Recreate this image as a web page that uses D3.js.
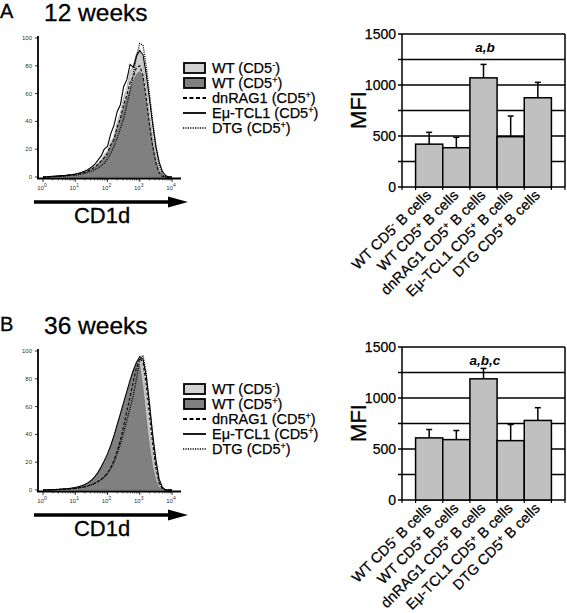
<!DOCTYPE html>
<html><head><meta charset="utf-8">
<script src="https://cdn.jsdelivr.net/npm/d3@7"></script>
<style>
html,body{margin:0;padding:0;background:#fff;}
svg{display:block;font-family:"Liberation Sans",Arial,sans-serif;}
</style></head>
<body>
<svg id="chart" width="567" height="613"></svg>
<script>
// ---------- DATA ----------
const panelLetters = ["A", "B"];
const panelTitles = ["12 weeks", "36 weeks"];
const sigLabels = ["a,b", "a,b,c"];

// histogram bins (log10 of CD1d intensity)
const histLogs = [0.0,0.1,0.2,0.3,0.4,0.5,0.6,0.7,0.8,0.9,1.0,1.1,1.2,1.3,1.4,1.5,1.6,1.7,1.8,1.9,2.0,2.1,2.2,2.3,2.4,2.5,2.6,2.7,2.8,2.9,3.0,3.1,3.2,3.3,3.4,3.5,3.6,3.7,3.8,3.9,4.0];
const histTickExps = [0, 1, 2, 3, 4];
const histYTicks = [0, 20, 40, 60, 80, 100];

// 12 weeks
const wtNegA  = [0,0,0.3,0.5,0.5,0.8,1,1,1.2,1.5,1.8,2.2,3,4,5,6.5,8,10,12,16,19,25,29,39,46,57,64,76,80,89,91,83,66,46,30,16,6,1.5,0.3,0,0];
const wtPosA  = [0,0,0.2,0.4,0.5,0.6,0.8,1,1.1,1.3,1.6,2,2.6,3.4,4.4,5.6,7,9,11,14,17,22,28,35,42,50,57,63,69,74,76,72,55,38,24,12,4,1,0,0,0];
const dnRagA  = [0,0,0.2,0.4,0.5,0.6,0.8,1,1.2,1.4,1.7,2.1,2.7,3.4,4.3,5.5,7,9,11.5,14,17,23,27,36,42,52,59,68,72,79,80,73,57,38,22,10,3,0.5,0,0,0];
const tcl1A   = [0,0,0.3,0.5,0.6,0.8,1,1.2,1.5,1.8,2.2,2.7,3.4,4.3,5.4,7,9,12,15,20,22,31,37,47,52,65,70,81,79,87,91,88,74,56,38,22,11,4,1,0,0];
const dtgA    = [0,0,0.2,0.3,0.4,0.5,0.6,0.8,1,1.2,1.4,1.7,2.1,2.7,3.4,4.2,5.2,6.5,8,10,13,17,22,28,35,42,52,62,74,87,96,95,80,60,40,22,9,2,0.3,0,0];
// 36 weeks
const wtNegB  = [0,0,0.2,0.3,0.4,0.5,0.6,0.8,1,1.3,1.7,2.2,2.8,3.6,4.6,6,8.5,10,14,19,22,30,35,45,51,61,67,77,83,91,95,88,68,45,26,12,4,1,0,0,0];
const wtPosB  = [0,0,0.2,0.3,0.4,0.5,0.7,0.9,1.1,1.4,1.8,2.3,3,4,5.2,6.7,9,12,16,20,25,31,38,46,54,62,70,78,86,92,90,74,52,32,17,7,2,0.3,0,0,0];
const dnRagB  = [0,0,0.1,0.2,0.3,0.4,0.5,0.6,0.8,1,1.2,1.5,1.9,2.4,3,3.8,4.8,6,7.5,9.5,12,16,21,28,36,46,57,67,78,88,95,92,76,54,33,16,5,1,0,0,0];
const tcl1B   = [0,0,0.2,0.3,0.4,0.5,0.7,0.9,1.1,1.4,1.8,2.3,3,4,5.3,7,9.5,12.5,16.5,21,26,32,39,47,55,63,71,79,86,92,96,94,82,62,40,22,8,2,0,0,0];
const dtgB    = [0,0,0.1,0.2,0.3,0.4,0.5,0.6,0.8,1,1.2,1.5,1.9,2.4,3,3.8,4.8,6,7.5,9.5,12,15.5,20,26,33,41,50,59,68,80,94,97,84,62,38,18,6,1.2,0,0,0];

const legendLabels = [
  ["WT (CD5", "-", ")"],
  ["WT (CD5", "+", ")"],
  ["dnRAG1 (CD5", "+", ")"],
  ["E\u03bc-TCL1 (CD5", "+", ")"],
  ["DTG (CD5", "+", ")"]
];

// bar charts
const barCategories = [
  ["WT CD5", "-", " B cells"],
  ["WT CD5", "+", " B cells"],
  ["dnRAG1 CD5", "+", " B cells"],
  ["E\u03bc-TCL1 CD5", "+", " B cells"],
  ["DTG CD5", "+", " B cells"]
];
const mfiA = [420, 385, 1070, 493, 875];
const errA = [116, 102, 132, 203, 151];
const mfiB = [609, 592, 1188, 582, 780];
const errB = [82, 89, 102, 158, 125];
const mfiTicks = [0, 250, 500, 750, 1000, 1250, 1500];
const mfiLabelTicks = [0, 500, 1000, 1500];

// ---------- DRAW ----------
const svg = d3.select("#chart");

const panels = [
  {letter: panelLetters[0], title: panelTitles[0], sig: sigLabels[0],
   hist: [wtNegA, wtPosA, dnRagA, tcl1A, dtgA], mfi: mfiA, err: errA, dy: 0, legDy: 0},
  {letter: panelLetters[1], title: panelTitles[1], sig: sigLabels[1],
   hist: [wtNegB, wtPosB, dnRagB, tcl1B, dtgB], mfi: mfiB, err: errB, dy: 313, legDy: 321}
];

function supText(sel, parts, supSize, shift) {
  sel.append("tspan").text(parts[0]);
  sel.append("tspan").attr("dy", -shift).attr("font-size", supSize).text(parts[1]);
  sel.append("tspan").attr("dy", shift).text(parts[2]);
}
function heavy(sel, w) { return sel.attr("stroke", "#000").attr("stroke-width", w).attr("paint-order", "stroke"); }

panels.forEach(p => {
  const g = svg.append("g").attr("transform", `translate(0,${p.dy})`);

  // titles
  heavy(g.append("text").attr("x", 0).attr("y", 18).attr("font-size", 20).text(p.letter), 0.3);
  heavy(g.append("text").attr("x", 44).attr("y", 21).attr("font-size", 24.5).text(p.title), 0.3);

  // ----- histogram -----
  const hx = d3.scaleLinear().domain([0, 4]).range([43, 172]);
  const hy = d3.scaleLinear().domain([0, 100]).range([177, 38]);
  const hg = g.append("g");

  const area = d3.area().x((d, i) => hx(histLogs[i])).y0(hy(0)).y1(d => hy(d)).curve(d3.curveLinear);
  const line = d3.line().x((d, i) => hx(histLogs[i])).y(d => hy(d)).curve(d3.curveLinear);

  hg.append("path").datum(p.hist[0]).attr("d", area).attr("fill", "#cbcbcb").attr("stroke", "#a8a8a8").attr("stroke-width", 0.8);
  hg.append("path").datum(p.hist[1]).attr("d", area).attr("fill", "#808080").attr("stroke", "#6a6a6a").attr("stroke-width", 0.6);
  const lineStyles = [null, null, "3,2", null, "1,1.2"];
  [2, 3, 4].forEach(k => {
    hg.append("path").datum(p.hist[k]).attr("d", line).attr("fill", "none")
      .attr("stroke", "#000").attr("stroke-width", k === 4 ? 1.4 : 1.1)
      .attr("stroke-dasharray", lineStyles[k]);
  });

  // axes
  hg.append("line").attr("x1", 38).attr("x2", 38).attr("y1", 36).attr("y2", 179).attr("stroke", "#000").attr("stroke-width", 1.8);
  hg.append("line").attr("x1", 37).attr("x2", 181).attr("y1", 178.5).attr("y2", 178.5).attr("stroke", "#000").attr("stroke-width", 1.8);
  histYTicks.forEach(t => {
    hg.append("line").attr("x1", 35).attr("x2", 38).attr("y1", hy(t)).attr("y2", hy(t)).attr("stroke", "#000").attr("stroke-width", 0.8);
    hg.append("text").attr("x", 32).attr("y", hy(t) + 2).attr("text-anchor", "end")
      .attr("font-size", 6).attr("fill", "#333").text(t);
  });
  histTickExps.forEach(e => {
    hg.append("line").attr("x1", hx(e)).attr("x2", hx(e)).attr("y1", 178).attr("y2", 182).attr("stroke", "#000").attr("stroke-width", 0.8);
    const t = hg.append("text").attr("x", hx(e) - 1).attr("y", 190).attr("text-anchor", "middle")
      .attr("font-size", 6).attr("fill", "#333");
    t.append("tspan").text("10");
    t.append("tspan").attr("dy", -3).attr("font-size", 5).text(e);
    if (e < 4) {
      [2,3,4,5,6,7,8,9].forEach(m => {
        const xv = hx(e + Math.log10(m));
        hg.append("line").attr("x1", xv).attr("x2", xv).attr("y1", 178).attr("y2", 180.5).attr("stroke", "#000").attr("stroke-width", 0.6);
      });
    }
  });

  // arrow + label
  hg.append("line").attr("x1", 34).attr("x2", 172).attr("y1", 202).attr("y2", 202).attr("stroke", "#000").attr("stroke-width", 3.5);
  hg.append("path").attr("d", "M168,196.5 L188,202 L168,207.5 Z").attr("fill", "#000");
  heavy(hg.append("text").attr("x", 102).attr("y", 223).attr("text-anchor", "middle").attr("font-size", 22).text("CD1d"), 0.3);

  // ----- legend -----
  const lg = svg.append("g").attr("transform", `translate(0,${p.legDy})`);
  const rowY = [68, 83, 98, 113, 128];
  const boxFill = ["#d2d2d2", "#808080"];
  legendLabels.forEach((lab, i) => {
    const cy = rowY[i];
    if (i < 2) {
      lg.append("rect").attr("x", 184).attr("y", cy - 5).attr("width", 21).attr("height", 10)
        .attr("fill", boxFill[i]).attr("stroke", "#000").attr("stroke-width", 1.8);
    } else {
      lg.append("line").attr("x1", 183).attr("x2", 206).attr("y1", cy).attr("y2", cy)
        .attr("stroke", "#000").attr("stroke-width", i === 4 ? 1.6 : 1.8)
        .attr("stroke-dasharray", i === 2 ? "4,2.5" : (i === 4 ? "1.2,1.2" : null));
    }
    const t = heavy(lg.append("text").attr("x", 212).attr("y", cy + 5).attr("font-size", 14.5), 0.25);
    supText(t, lab, 9, 5);
  });

  // ----- bar chart -----
  const bx = d3.scaleBand().domain(d3.range(barCategories.length)).range([402, 565]).paddingInner(0).paddingOuter(0.5);
  const by = d3.scaleLinear().domain([0, 1500]).range([187, 34]);
  const bg = g.append("g");

  mfiTicks.forEach(t => {
    bg.append("line").attr("x1", 398).attr("x2", 565).attr("y1", by(t)).attr("y2", by(t))
      .attr("stroke", "#000").attr("stroke-width", 1.5);
  });
  bg.append("line").attr("x1", 402).attr("x2", 402).attr("y1", by(1500)).attr("y2", by(0)).attr("stroke", "#000").attr("stroke-width", 1.5);
  bg.append("line").attr("x1", 565).attr("x2", 565).attr("y1", by(1500)).attr("y2", by(0)).attr("stroke", "#000").attr("stroke-width", 1.5);
  mfiLabelTicks.forEach(t => {
    heavy(bg.append("text").attr("x", 396).attr("y", by(t) + 5).attr("text-anchor", "end").attr("font-size", 14).text(t), 0.25);
  });

  // bars
  p.mfi.forEach((v, i) => {
    const cx = bx(i) + bx.bandwidth() / 2;
    const top = by(v + p.err[i]);
    bg.append("line").attr("x1", cx).attr("x2", cx).attr("y1", by(v)).attr("y2", top).attr("stroke", "#000").attr("stroke-width", 1.5);
    bg.append("line").attr("x1", cx - 3).attr("x2", cx + 3).attr("y1", top).attr("y2", top).attr("stroke", "#000").attr("stroke-width", 1.5);
  });
  p.mfi.forEach((v, i) => {
    bg.append("rect").attr("x", bx(i)).attr("y", by(v)).attr("width", bx.bandwidth()).attr("height", by(0) - by(v))
      .attr("fill", "#c0c0c0").attr("stroke", "#000").attr("stroke-width", 1.5);
  });
  // bottom axis ticks
  const edges = d3.range(barCategories.length).map(i => bx(i)).concat([bx(barCategories.length - 1) + bx.bandwidth()]);
  [402].concat(edges, [565]).forEach(xv => {
    bg.append("line").attr("x1", xv).attr("x2", xv).attr("y1", by(0)).attr("y2", by(0) + 3).attr("stroke", "#000").attr("stroke-width", 1.2);
  });

  // significance label
  bg.append("text").attr("x", 485).attr("y", by(1375) + 5).attr("text-anchor", "middle")
    .attr("font-size", 13.5).attr("font-style", "italic").attr("font-weight", "bold").text(p.sig);

  // category labels
  barCategories.forEach((c, i) => {
    const cx = bx(i) + bx.bandwidth() / 2 + 3;
    const t = heavy(bg.append("text").attr("transform", `translate(${cx},${by(0) + 9}) rotate(-45)`)
      .attr("text-anchor", "end").attr("font-size", 14.5), 0.25);
    supText(t, c, 9.5, 5);
  });

  // y-axis title
  heavy(bg.append("text").attr("transform", `translate(366,110) rotate(-90)`).attr("text-anchor", "middle")
    .attr("font-size", 22).text("MFI"), 0.3);
});
</script>
</body></html>
